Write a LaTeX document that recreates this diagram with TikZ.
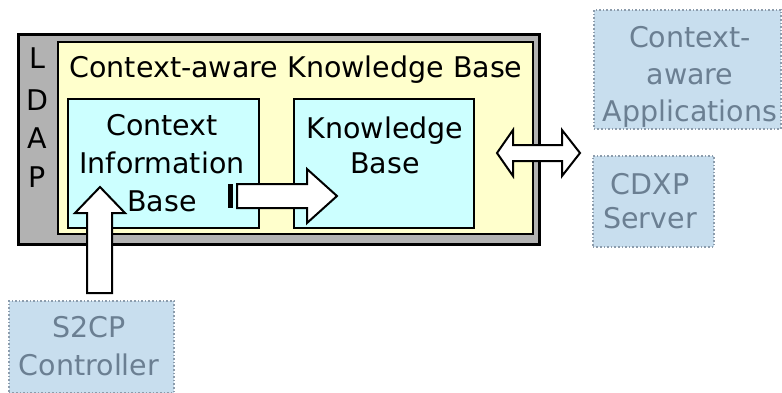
\documentclass[tikz,border=0pt]{standalone}
\usepackage{fontspec}
\setmainfont{DejaVu Sans}
\definecolor{ldapgray}{RGB}{178,178,178}
\definecolor{kbyellow}{RGB}{255,255,204}
\definecolor{incyan}{RGB}{204,255,255}
\definecolor{extfill}{RGB}{200,222,238}
\definecolor{extline}{RGB}{140,156,172}
\definecolor{exttext}{RGB}{107,127,146}
\tikzset{
  ldapbox/.style={draw=black, line width=2.5pt, fill=ldapgray, inner sep=0pt, anchor=north west},
  ckbbox/.style={draw=black, line width=2pt, fill=kbyellow, inner sep=0pt, anchor=north west},
  inbox/.style={draw=black, line width=2pt, fill=incyan, inner sep=0pt, anchor=north west},
  extbox/.style={draw=extline, dotted, line width=1.6pt, fill=extfill, inner sep=0pt, anchor=north west},
  txt/.style={inner sep=0pt, anchor=base, align=center, font=\fontsize{28.5}{38}\selectfont},
  exttxt/.style={txt, text=exttext},
  blockarrow/.style={draw=black, line width=2pt, fill=white, line join=miter}
}
\begin{document}
\begin{tikzpicture}[x=1pt,y=-1pt]
\useasboundingbox[fill=white] (0,0) rectangle (782,392);
% boxes
\node[ldapbox, minimum width=521pt, minimum height=210pt] (ldap) at (17,33) {};
\node[ckbbox, minimum width=475pt, minimum height=192pt] (ckb) at (57,41) {};
\node[inbox, minimum width=191pt, minimum height=129pt] (cib) at (67,98) {};
\node[inbox, minimum width=180pt, minimum height=129pt] (kb) at (293,98) {};
\node[extbox, minimum width=187pt, minimum height=119pt] (apps) at (593,9) {};
\node[extbox, minimum width=121pt, minimum height=91pt] (cdxp) at (592,155) {};
\node[extbox, minimum width=165pt, minimum height=92pt] (s2cp) at (8,300) {};
% texts (base anchor = baseline of the last line)
\node[txt] (l1) at (37,68) {L};
\node[txt] (l2) at (37,110) {D};
\node[txt] (l3) at (37,148) {A};
\node[txt] (l4) at (37,187) {P};
\node[txt] (ckbt) at (296,77) {Context-aware Knowledge Base};
\node[txt] (cibt) at (162,211) {Context\\Information\\Base};
\node[txt, font=\fontsize{28.5}{35}\selectfont] (kbt) at (385,173) {Knowledge\\Base};
\node[exttxt, font=\fontsize{28.5}{37}\selectfont] (appst) at (690,121) {Context-\\aware\\Applications};
\node[exttxt, font=\fontsize{28.5}{34}\selectfont] (cdxpt) at (650,228) {CDXP\\Server};
\node[exttxt] (s2cpt) at (89,375) {S2CP\\Controller};
% up arrow from S2CP into CIB
\draw[blockarrow] (87,293) -- (87,213) -- (75,213) -- (100,187) -- (125,213) -- (112,213) -- (112,293) -- cycle;
% striped arrow CIB -> KB
\fill[black] (228,184) rectangle (233,208);
\draw[blockarrow] (237,184) -- (307,184) -- (307,169) -- (337,196) -- (307,223) -- (307,208) -- (237,208) -- cycle;
% double arrow
\draw[blockarrow] (497,153) -- (513,130) -- (513,145) -- (562,145) -- (562,130) -- (580,153) -- (562,176) -- (562,161) -- (513,161) -- (513,176) -- cycle;
\end{tikzpicture}
\end{document}
